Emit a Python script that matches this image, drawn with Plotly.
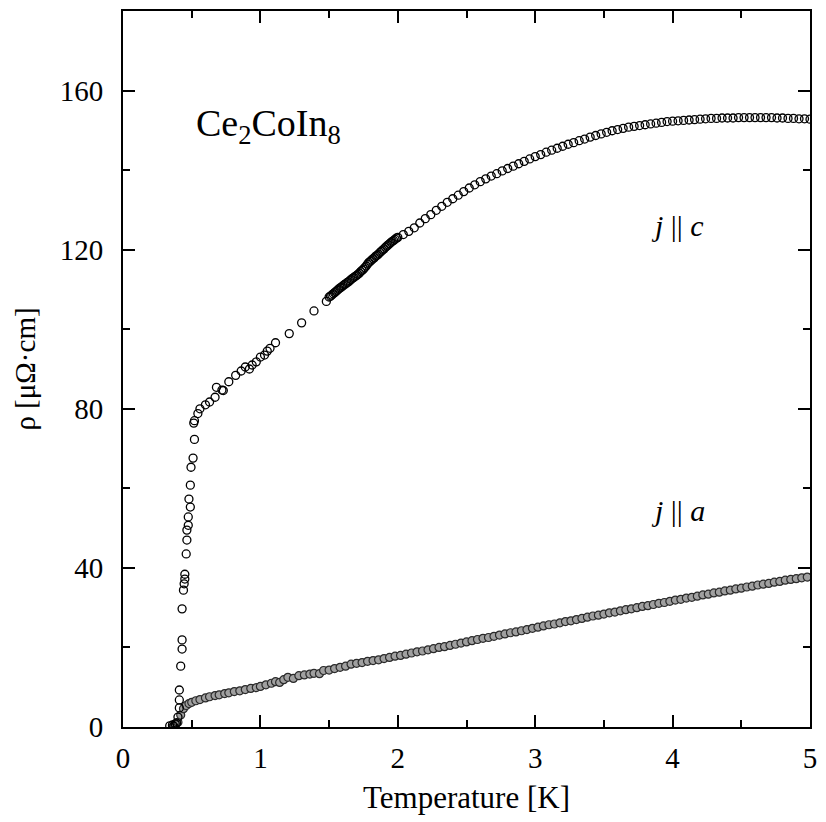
import plotly.graph_objects as go

# ---- j || c (open circles) ----
T_c = [0.34, 0.36, 0.37, 0.38, 0.39, 0.40, 0.41, 0.41, 0.41, 0.42, 0.43, 0.43, 0.43, 0.44, 0.445,
       0.45, 0.45, 0.46, 0.465, 0.465, 0.475, 0.475, 0.49, 0.48, 0.49, 0.495, 0.51, 0.52, 0.515,
       0.52, 0.545, 0.56, 0.60, 0.63, 0.67, 0.68, 0.72, 0.73, 0.77, 0.82, 0.86, 0.89, 0.92, 0.94,
       0.97, 1.00, 1.03, 1.05, 1.07, 1.11, 1.21, 1.30, 1.39, 1.48,
       1.50, 1.51, 1.52, 1.53, 1.54, 1.55, 1.56, 1.57, 1.58, 1.59, 1.60, 1.61, 1.62, 1.63, 1.64,
       1.65, 1.66, 1.67, 1.68, 1.69, 1.70, 1.71, 1.72, 1.73, 1.74, 1.75, 1.76, 1.77, 1.78, 1.79,
       1.80, 1.81, 1.82, 1.83, 1.84, 1.85, 1.86, 1.87, 1.88, 1.89, 1.90, 1.91, 1.92, 1.93, 1.94,
       1.95, 1.96, 1.97, 1.98, 1.99, 2.00,
       2.04, 2.08, 2.12, 2.16, 2.20, 2.24, 2.28, 2.32, 2.36, 2.40, 2.44, 2.48, 2.52, 2.56, 2.60,
       2.64, 2.68, 2.72, 2.76, 2.80, 2.84, 2.88, 2.92, 2.96, 3.00, 3.04, 3.08, 3.12, 3.16, 3.20,
       3.24, 3.28, 3.32, 3.36, 3.40, 3.44, 3.48, 3.52, 3.56, 3.60, 3.64, 3.68, 3.72, 3.76, 3.80,
       3.84, 3.88, 3.92, 3.96, 4.00, 4.04, 4.08, 4.12, 4.16, 4.20, 4.24, 4.28, 4.32, 4.36, 4.40,
       4.44, 4.48, 4.52, 4.56, 4.60, 4.64, 4.68, 4.72, 4.76, 4.80, 4.84, 4.88, 4.92, 4.96, 5.00]
rho_c = [0.3, 0.5, 0.2, 0.8, 1.0, 2.5, 4.8, 6.8, 9.3, 15.3, 19.6, 21.9, 29.7, 34.4, 36.0,
         37.2, 38.4, 43.5, 47.0, 49.5, 50.7, 52.8, 55.3, 57.3, 60.8, 65.3, 67.6, 72.3, 76.4,
         77.0, 78.8, 80.0, 81.0, 81.7, 82.9, 85.4, 84.7, 84.6, 86.8, 88.4, 89.5, 90.5, 90.0, 91.0,
         91.8, 93.0, 93.5, 94.5, 95.2, 96.6, 98.9, 101.6, 104.6, 107.0,
         108.1, 108.3, 108.6, 108.9, 109.2, 109.5, 109.8, 110.1, 110.4, 110.6, 110.9, 111.2, 111.4,
         111.7, 111.9, 112.2, 112.5, 112.8, 113.0, 113.3, 113.5, 113.8, 114.1, 114.5, 114.8, 115.1,
         115.5, 115.9, 116.4, 116.8, 117.1, 117.4, 117.7, 118.0, 118.4, 118.6, 118.9, 119.3, 119.6,
         119.9, 120.2, 120.6, 120.9, 121.2, 121.5, 121.8, 122.1, 122.3, 122.6, 122.9, 123.1,
         123.8, 124.6, 125.5, 126.7, 127.8, 128.8, 129.9, 130.9, 131.9, 132.8, 133.7, 134.6, 135.5,
         136.3, 137.1, 137.8, 138.5, 139.1, 139.8, 140.4, 141.0, 141.6, 142.2, 142.8, 143.4, 143.9,
         144.5, 145.0, 145.5, 146.0, 146.5, 146.9, 147.4, 147.8, 148.3, 148.7, 149.1, 149.5, 149.9,
         150.2, 150.5, 150.8, 151.0, 151.2, 151.4, 151.6, 151.8, 152.0, 152.2, 152.3, 152.4, 152.5,
         152.6, 152.7, 152.8, 152.9, 153.0, 153.0, 153.1, 153.1, 153.1, 153.2, 153.2, 153.2, 153.2,
         153.2, 153.2, 153.2, 153.1, 153.1, 153.0, 153.0, 152.9, 152.9, 152.8]

# ---- j || a (grey band) ----
T_a = [0.36, 0.38, 0.40, 0.42, 0.44, 0.46, 0.48, 0.50, 0.53, 0.56, 0.60, 0.63, 0.67, 0.70, 0.74,
       0.77, 0.81, 0.85, 0.89, 0.93, 0.97, 1.00, 1.04, 1.08, 1.11, 1.14, 1.17, 1.20, 1.24, 1.28,
       1.32, 1.36, 1.39, 1.43, 1.46, 1.50, 1.54, 1.58, 1.62, 1.66, 1.70, 1.74, 1.78, 1.82, 1.86,
       1.90, 1.94, 1.98, 2.02, 2.06, 2.10, 2.14, 2.18, 2.22, 2.26, 2.30, 2.34, 2.38, 2.42, 2.46,
       2.50, 2.54, 2.58, 2.62, 2.66, 2.70, 2.74, 2.78, 2.82, 2.86, 2.90, 2.94, 2.98, 3.02, 3.06,
       3.10, 3.14, 3.18, 3.22, 3.26, 3.30, 3.34, 3.38, 3.42, 3.46, 3.50, 3.54, 3.58, 3.62, 3.66,
       3.70, 3.74, 3.78, 3.82, 3.86, 3.90, 3.94, 3.98, 4.02, 4.06, 4.10, 4.14, 4.18, 4.22, 4.26,
       4.30, 4.34, 4.38, 4.42, 4.46, 4.50, 4.54, 4.58, 4.62, 4.66, 4.70, 4.74, 4.78, 4.82, 4.86,
       4.90, 4.94, 4.98]
rho_a = [0.0, 0.3, 1.2, 3.0, 4.6, 5.4, 5.9, 6.2, 6.6, 6.9, 7.3, 7.6, 7.9, 8.1, 8.4,
         8.6, 8.9, 9.1, 9.4, 9.7, 9.9, 10.2, 10.6, 11.0, 11.4, 11.2, 11.9, 12.5, 12.2, 12.9,
         13.1, 13.3, 13.5, 13.4, 14.2, 14.3, 14.7, 15.0, 15.3, 15.8, 16.0, 16.2, 16.5, 16.7, 16.9,
         17.2, 17.5, 17.8, 18.0, 18.3, 18.6, 18.9, 19.1, 19.4, 19.7, 20.0, 20.2, 20.5, 20.8, 21.1,
         21.4, 21.7, 22.0, 22.3, 22.5, 22.8, 23.1, 23.4, 23.7, 23.9, 24.2, 24.5, 24.8, 25.1, 25.4,
         25.7, 25.9, 26.2, 26.5, 26.7, 27.0, 27.3, 27.6, 27.9, 28.1, 28.4, 28.7, 28.9, 29.2, 29.5,
         29.7, 30.0, 30.3, 30.5, 30.8, 31.1, 31.3, 31.6, 31.9, 32.1, 32.4, 32.6, 32.9, 33.2, 33.4,
         33.7, 33.9, 34.2, 34.4, 34.7, 34.9, 35.2, 35.4, 35.7, 35.9, 36.1, 36.4, 36.6, 36.9, 37.1,
         37.3, 37.5, 37.7]

x_ticks = [0, 1, 2, 3, 4, 5]
y_ticks = [0, 40, 80, 120, 160]

FONT = "Liberation Serif"

fig = go.Figure()
fig.add_trace(go.Scatter(
    x=T_a, y=rho_a, mode="markers",
    marker=dict(symbol="circle", size=8, color="#a0a0a0",
                line=dict(color="#2a2a2a", width=1.2)),
    showlegend=False))
fig.add_trace(go.Scatter(
    x=T_c, y=rho_c, mode="markers",
    marker=dict(symbol="circle-open", size=8, color="black",
                line=dict(color="black", width=1.3)),
    showlegend=False))

fig.add_annotation(x=0.52, y=151, xref="x", yref="y", text="Ce<sub>2</sub>CoIn<sub>8</sub>",
                   showarrow=False, xanchor="left", yanchor="middle",
                   font=dict(family=FONT, size=38, color="black"))
fig.add_annotation(x=3.83, y=126, xref="x", yref="y", text="<i>j</i> || <i>c</i>",
                   showarrow=False, xanchor="left", yanchor="middle",
                   font=dict(family=FONT, size=30, color="black"))
fig.add_annotation(x=3.83, y=54.5, xref="x", yref="y", text="<i>j</i> || <i>a</i>",
                   showarrow=False, xanchor="left", yanchor="middle",
                   font=dict(family=FONT, size=30, color="black"))

axis_common = dict(showline=True, linecolor="black", linewidth=2, mirror="allticks",
                   ticks="inside", tickcolor="black", tickwidth=2, ticklen=12,
                   showgrid=False, zeroline=False,
                   tickfont=dict(family=FONT, size=29, color="black"))

fig.update_xaxes(range=[0, 5], tickvals=x_ticks, ticktext=[str(v) for v in x_ticks],
                 minor=dict(ticks="inside", ticklen=7, tickwidth=1.5, tickcolor="black", dtick=0.5),
                 title=dict(text="Temperature [K]", font=dict(family=FONT, size=31, color="black"),
                            standoff=14),
                 ticklabelstandoff=4, **axis_common)
fig.update_yaxes(range=[0, 180], tickvals=y_ticks, ticktext=[str(v) for v in y_ticks],
                 minor=dict(ticks="inside", ticklen=7, tickwidth=1.5, tickcolor="black", dtick=20),
                 title=dict(text="ρ [μΩ·cm]", font=dict(family=FONT, size=29, color="black"),
                            standoff=16),
                 ticklabelstandoff=12, **axis_common)

fig.update_layout(width=826, height=822, plot_bgcolor="white", paper_bgcolor="white",
                  margin=dict(l=123, r=9, t=10, b=95))

fig.write_html("out.html")
